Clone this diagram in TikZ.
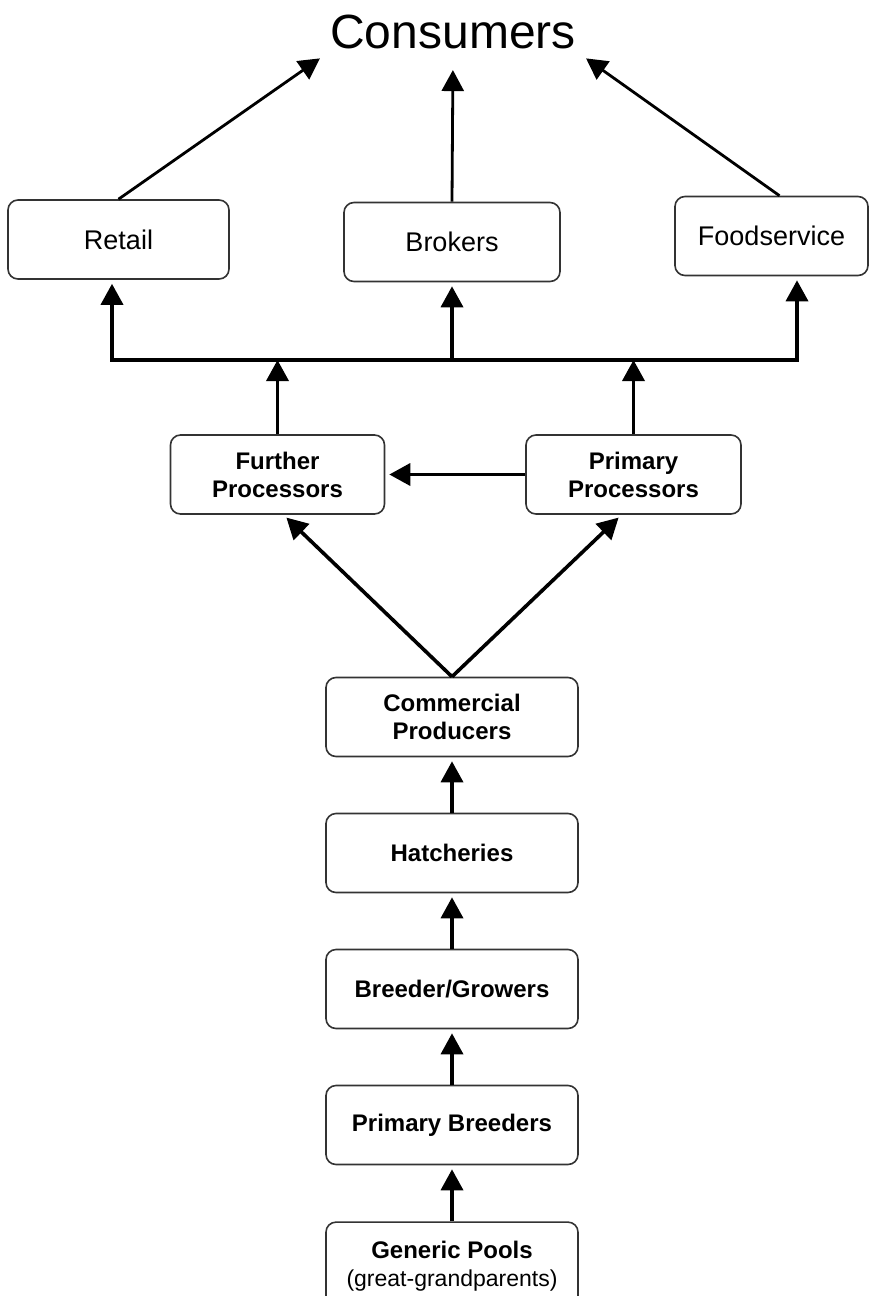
\documentclass[tikz,border=0pt]{standalone}
\usepackage{fontspec}
\setmainfont{Liberation Sans}
\usetikzlibrary{arrows.meta,positioning}

\begin{document}
\begin{tikzpicture}[x=0.5pt,y=-0.5pt]

\tikzstyle{flowArrow} = [line width=1.8pt, -{Triangle[length=10.5pt,width=11pt]},
    shorten >= 2pt]
\tikzstyle{busLine} = [line width=1.8pt, line cap=rect]

\tikzstyle{stage}=[draw=black!80, line width=0.8pt, rounded corners=5pt,
    align=center, font=\fontsize{12}{14}\selectfont\bfseries,
    minimum width=126pt, minimum height=39.5pt, inner sep=0pt, node distance=68pt]
\tikzstyle{outlet}=[draw=black!80, line width=0.8pt, rounded corners=5pt,
    font=\fontsize{13.5}{16}\selectfont, minimum height=39.5pt, inner sep=0pt]

\useasboundingbox (0,0) rectangle (881,1296);

\node[font=\fontsize{24}{29}\selectfont] (cons) at (453,32) {Consumers};

\node[outlet,minimum width=110.5pt] (retail) at (118.5,239.5) {Retail};
\node[outlet,minimum width=108pt] (brokers) at (452,242) {Brokers};
\node[outlet,minimum width=96.5pt] (food) at (771.5,236) {Foodservice};

\node[stage,minimum width=107pt] (fp) at (277.5,474.5) {Further\\Processors};
\node[stage,minimum width=107.5pt] (pp) at (633.5,474.5) {Primary\\Processors};

\node[stage] (cp) at (452,717) {Commercial\\Producers};
\node[stage,below of=cp] (hat) {Hatcheries};
\node[stage,below of=hat] (bg) {Breeder/Growers};
\node[stage,below of=bg] (pb) {Primary Breeders};
\node[stage,minimum height=44pt,below=28pt of pb] (gp) {Generic Pools\\
    {\mdseries\fontsize{11.5}{14}\selectfont (great-grandparents)}};

% up the chain
\draw[flowArrow] (gp) -- (pb);
\draw[flowArrow] (pb) -- (bg);
\draw[flowArrow] (bg) -- (hat);
\draw[flowArrow] (hat) -- (cp);

\draw[flowArrow] (cp.north) -- ([xshift=3pt]fp.south);
\draw[flowArrow] (cp.north) -- ([xshift=-6pt]pp.south);
\draw[flowArrow] (pp.west) -- (fp.east);

% distribution bus
\coordinate (busl) at (112,360);
\coordinate (busr) at (797,360);

\draw[busLine] (busl) -- (busr);
\draw[flowArrow,shorten >=0pt] (fp.north) -- (fp.north |- busl);
\draw[flowArrow,shorten >=0pt] (pp.north) -- (pp.north |- busl);
\draw[flowArrow] (busl) -- (busl |- retail.south);
\draw[flowArrow] (brokers.south |- busl) -- (brokers.south);
\draw[flowArrow] (busr) -- (busr |- food.south);

\draw[flowArrow,line width=1.4pt] (retail.north) -- (cons.south west);
\draw[flowArrow,line width=1.4pt,shorten >=7pt] (brokers.north) -- (cons.south);
\draw[flowArrow,line width=1.4pt] ([xshift=4pt]food.north) -- (cons.south east);

\end{tikzpicture}
\end{document}
